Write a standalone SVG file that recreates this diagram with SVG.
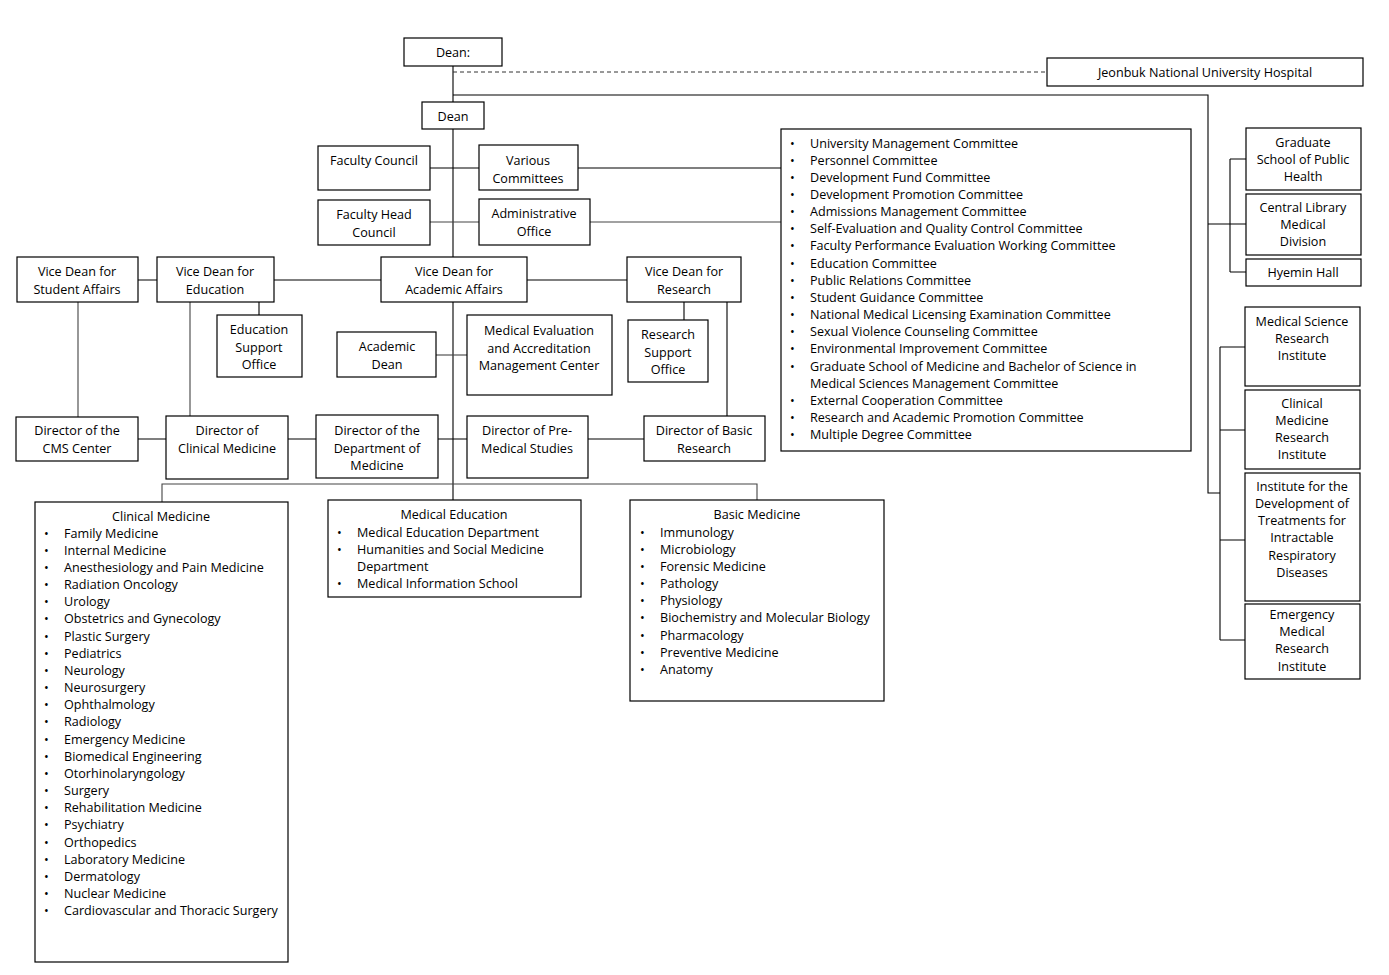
<svg xmlns="http://www.w3.org/2000/svg" width="1389" height="975" viewBox="0 0 1389 975">
<style>
.b{fill:#fff;stroke:#000;stroke-width:1.2}
.t{font-family:"Open Sans","Liberation Sans",sans-serif;font-size:12.6px;fill:#000;text-anchor:middle;dominant-baseline:middle;transform:translateY(1.5px)}
.l{font-family:"Open Sans","Liberation Sans",sans-serif;font-size:12.6px;fill:#000;dominant-baseline:middle;transform:translateY(1.5px)}
.c{fill:none;stroke:#000;stroke-width:1.1}
.g{fill:none;stroke:#444;stroke-width:1.1}
.d{fill:none;stroke:#333;stroke-width:1;stroke-dasharray:4 3}
</style>
<rect width="1389" height="975" fill="#fff"/>
<g id="connectors">
<path class="c" d="M453 66V102M453 129V257M453 302V500"/>
<path class="d" d="M453 72H1047"/>
<path class="c" d="M453 95H1208V493H1220"/>
<path class="c" d="M1208 224H1246M1230 159V272M1230 159H1246M1230 272H1246"/>
<path class="c" d="M1220 347V640M1220 347H1245M1220 430H1245M1220 540H1245M1220 640H1245"/>
<path class="c" d="M430 168H479M578 168H781"/>
<path class="g" d="M430 222H479M590 222H781"/>
<path class="c" d="M138 280H157M274 280H381M527 280H627"/>
<path class="c" d="M259 302V315M684 302V320M727 302V416"/>
<path class="g" d="M78 302V417M190 302V416"/>
<path class="g" d="M436 355H467"/>
<path class="c" d="M138 439H166M288 439H316M438 439H467M588 439H644"/>
<path class="g" d="M162 502V484H757V500"/>
</g>
<g id="dean-top"><rect class="b" x="404" y="38" width="98" height="28"/><text class="t" x="453" y="52">Dean:</text></g>
<g id="hospital"><rect class="b" x="1047" y="58" width="316" height="28"/><text class="t" x="1205" y="72">Jeonbuk National University Hospital</text></g>
<g id="dean"><rect class="b" x="422" y="102" width="62" height="27"/><text class="t" x="453" y="116">Dean</text></g>
<g id="faculty-council"><rect class="b" x="318" y="146" width="112" height="44"/><text class="t" x="374" y="160">Faculty Council</text></g>
<g id="various-committees"><rect class="b" x="479" y="145" width="99" height="45"/><text class="t" x="528" y="160">Various</text><text class="t" x="528" y="178">Committees</text></g>
<g id="faculty-head-council"><rect class="b" x="318" y="200" width="112" height="45"/><text class="t" x="374" y="214">Faculty Head</text><text class="t" x="374" y="232">Council</text></g>
<g id="administrative-office"><rect class="b" x="479" y="199" width="111" height="46"/><text class="t" x="534" y="213">Administrative</text><text class="t" x="534" y="231">Office</text></g>
<g id="committee-list"><rect class="b" x="781" y="129" width="410" height="322"/>
<g class="l">
<text x="790" y="143">•</text><text x="810" y="143">University Management Committee</text>
<text x="790" y="160">•</text><text x="810" y="160">Personnel Committee</text>
<text x="790" y="177">•</text><text x="810" y="177">Development Fund Committee</text>
<text x="790" y="194">•</text><text x="810" y="194">Development Promotion Committee</text>
<text x="790" y="211">•</text><text x="810" y="211">Admissions Management Committee</text>
<text x="790" y="228">•</text><text x="810" y="228">Self-Evaluation and Quality Control Committee</text>
<text x="790" y="245">•</text><text x="810" y="245">Faculty Performance Evaluation Working Committee</text>
<text x="790" y="263">•</text><text x="810" y="263">Education Committee</text>
<text x="790" y="280">•</text><text x="810" y="280">Public Relations Committee</text>
<text x="790" y="297">•</text><text x="810" y="297">Student Guidance Committee</text>
<text x="790" y="314">•</text><text x="810" y="314">National Medical Licensing Examination Committee</text>
<text x="790" y="331">•</text><text x="810" y="331">Sexual Violence Counseling Committee</text>
<text x="790" y="348">•</text><text x="810" y="348">Environmental Improvement Committee</text>
<text x="790" y="366">•</text><text x="810" y="366">Graduate School of Medicine and Bachelor of Science in</text>
<text x="810" y="383">Medical Sciences Management Committee</text>
<text x="790" y="400">•</text><text x="810" y="400">External Cooperation Committee</text>
<text x="790" y="417">•</text><text x="810" y="417">Research and Academic Promotion Committee</text>
<text x="790" y="434">•</text><text x="810" y="434">Multiple Degree Committee</text>
</g></g>
<g id="graduate-school"><rect class="b" x="1246" y="128" width="115" height="62"/><text class="t" x="1303" y="142">Graduate</text><text class="t" x="1303" y="159">School of Public</text><text class="t" x="1303" y="176">Health</text></g>
<g id="central-library"><rect class="b" x="1246" y="194" width="115" height="61"/><text class="t" x="1303" y="207">Central Library</text><text class="t" x="1303" y="224">Medical</text><text class="t" x="1303" y="241">Division</text></g>
<g id="hyemin-hall"><rect class="b" x="1246" y="259" width="115" height="27"/><text class="t" x="1303" y="272">Hyemin Hall</text></g>
<g id="medical-science-institute"><rect class="b" x="1245" y="307" width="115" height="79"/><text class="t" x="1302" y="321">Medical Science</text><text class="t" x="1302" y="338">Research</text><text class="t" x="1302" y="355">Institute</text></g>
<g id="clinical-medicine-institute"><rect class="b" x="1245" y="390" width="115" height="79"/><text class="t" x="1302" y="403">Clinical</text><text class="t" x="1302" y="420">Medicine</text><text class="t" x="1302" y="437">Research</text><text class="t" x="1302" y="454">Institute</text></g>
<g id="respiratory-institute"><rect class="b" x="1245" y="473" width="115" height="128"/><text class="t" x="1302" y="486">Institute for the</text><text class="t" x="1302" y="503">Development of</text><text class="t" x="1302" y="520">Treatments for</text><text class="t" x="1302" y="537">Intractable</text><text class="t" x="1302" y="555">Respiratory</text><text class="t" x="1302" y="572">Diseases</text></g>
<g id="emergency-institute"><rect class="b" x="1245" y="604" width="115" height="75"/><text class="t" x="1302" y="614">Emergency</text><text class="t" x="1302" y="631">Medical</text><text class="t" x="1302" y="648">Research</text><text class="t" x="1302" y="666">Institute</text></g>
<g id="vd-student"><rect class="b" x="17" y="257" width="121" height="45"/><text class="t" x="77" y="271">Vice Dean for</text><text class="t" x="77" y="289">Student Affairs</text></g>
<g id="vd-education"><rect class="b" x="157" y="257" width="117" height="45"/><text class="t" x="215" y="271">Vice Dean for</text><text class="t" x="215" y="289">Education</text></g>
<g id="vd-academic"><rect class="b" x="381" y="257" width="146" height="45"/><text class="t" x="454" y="271">Vice Dean for</text><text class="t" x="454" y="289">Academic Affairs</text></g>
<g id="vd-research"><rect class="b" x="627" y="257" width="114" height="45"/><text class="t" x="684" y="271">Vice Dean for</text><text class="t" x="684" y="289">Research</text></g>
<g id="education-support"><rect class="b" x="217" y="315" width="85" height="62"/><text class="t" x="259" y="329">Education</text><text class="t" x="259" y="347">Support</text><text class="t" x="259" y="364">Office</text></g>
<g id="academic-dean"><rect class="b" x="337" y="332" width="99" height="45"/><text class="t" x="387" y="346">Academic</text><text class="t" x="387" y="364">Dean</text></g>
<g id="medical-evaluation"><rect class="b" x="467" y="315" width="145" height="80"/><text class="t" x="539" y="330">Medical Evaluation</text><text class="t" x="539" y="348">and Accreditation</text><text class="t" x="539" y="365">Management Center</text></g>
<g id="research-support"><rect class="b" x="628" y="320" width="80" height="62"/><text class="t" x="668" y="334">Research</text><text class="t" x="668" y="352">Support</text><text class="t" x="668" y="369">Office</text></g>
<g id="dir-cms"><rect class="b" x="16" y="417" width="122" height="44"/><text class="t" x="77" y="430">Director of the</text><text class="t" x="77" y="448">CMS Center</text></g>
<g id="dir-clinical"><rect class="b" x="166" y="416" width="122" height="63"/><text class="t" x="227" y="430">Director of</text><text class="t" x="227" y="448">Clinical Medicine</text></g>
<g id="dir-department"><rect class="b" x="316" y="415" width="122" height="63"/><text class="t" x="377" y="430">Director of the</text><text class="t" x="377" y="448">Department of</text><text class="t" x="377" y="465">Medicine</text></g>
<g id="dir-premedical"><rect class="b" x="467" y="416" width="121" height="62"/><text class="t" x="527" y="430">Director of Pre-</text><text class="t" x="527" y="448">Medical Studies</text></g>
<g id="dir-basic"><rect class="b" x="644" y="416" width="121" height="45"/><text class="t" x="704" y="430">Director of Basic</text><text class="t" x="704" y="448">Research</text></g>
<g id="clinical-medicine"><rect class="b" x="35" y="502" width="253" height="460"/><text class="t" x="161" y="516">Clinical Medicine</text>
<g class="l">
<text x="44" y="533">•</text><text x="64" y="533">Family Medicine</text>
<text x="44" y="550">•</text><text x="64" y="550">Internal Medicine</text>
<text x="44" y="567">•</text><text x="64" y="567">Anesthesiology and Pain Medicine</text>
<text x="44" y="584">•</text><text x="64" y="584">Radiation Oncology</text>
<text x="44" y="601">•</text><text x="64" y="601">Urology</text>
<text x="44" y="618">•</text><text x="64" y="618">Obstetrics and Gynecology</text>
<text x="44" y="636">•</text><text x="64" y="636">Plastic Surgery</text>
<text x="44" y="653">•</text><text x="64" y="653">Pediatrics</text>
<text x="44" y="670">•</text><text x="64" y="670">Neurology</text>
<text x="44" y="687">•</text><text x="64" y="687">Neurosurgery</text>
<text x="44" y="704">•</text><text x="64" y="704">Ophthalmology</text>
<text x="44" y="721">•</text><text x="64" y="721">Radiology</text>
<text x="44" y="739">•</text><text x="64" y="739">Emergency Medicine</text>
<text x="44" y="756">•</text><text x="64" y="756">Biomedical Engineering</text>
<text x="44" y="773">•</text><text x="64" y="773">Otorhinolaryngology</text>
<text x="44" y="790">•</text><text x="64" y="790">Surgery</text>
<text x="44" y="807">•</text><text x="64" y="807">Rehabilitation Medicine</text>
<text x="44" y="824">•</text><text x="64" y="824">Psychiatry</text>
<text x="44" y="842">•</text><text x="64" y="842">Orthopedics</text>
<text x="44" y="859">•</text><text x="64" y="859">Laboratory Medicine</text>
<text x="44" y="876">•</text><text x="64" y="876">Dermatology</text>
<text x="44" y="893">•</text><text x="64" y="893">Nuclear Medicine</text>
<text x="44" y="910">•</text><text x="64" y="910">Cardiovascular and Thoracic Surgery</text>
</g></g>
<g id="medical-education"><rect class="b" x="328" y="500" width="253" height="97"/><text class="t" x="454" y="514">Medical Education</text>
<g class="l">
<text x="337" y="532">•</text><text x="357" y="532">Medical Education Department</text>
<text x="337" y="549">•</text><text x="357" y="549">Humanities and Social Medicine</text>
<text x="357" y="566">Department</text>
<text x="337" y="583">•</text><text x="357" y="583">Medical Information School</text>
</g></g>
<g id="basic-medicine"><rect class="b" x="630" y="500" width="254" height="201"/><text class="t" x="757" y="514">Basic Medicine</text>
<g class="l">
<text x="640" y="532">•</text><text x="660" y="532">Immunology</text>
<text x="640" y="549">•</text><text x="660" y="549">Microbiology</text>
<text x="640" y="566">•</text><text x="660" y="566">Forensic Medicine</text>
<text x="640" y="583">•</text><text x="660" y="583">Pathology</text>
<text x="640" y="600">•</text><text x="660" y="600">Physiology</text>
<text x="640" y="617">•</text><text x="660" y="617">Biochemistry and Molecular Biology</text>
<text x="640" y="635">•</text><text x="660" y="635">Pharmacology</text>
<text x="640" y="652">•</text><text x="660" y="652">Preventive Medicine</text>
<text x="640" y="669">•</text><text x="660" y="669">Anatomy</text>
</g></g>
</svg>
